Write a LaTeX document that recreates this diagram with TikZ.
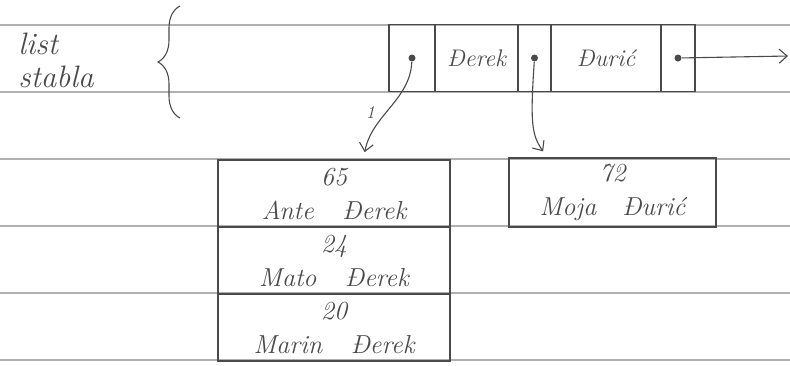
\documentclass[tikz,border=0pt]{standalone}
\usetikzlibrary{decorations.pathreplacing, arrows.meta}
\definecolor{pencil}{HTML}{4A4A4A}
\definecolor{ruling}{HTML}{B0B0B0}

\begin{document}
\begin{tikzpicture}[x=1pt, y=-1pt, line width=1.1pt, color=pencil,
    >={Straight Barb[length=8pt, width=14pt]},
    every node/.style={font=\itshape\fontsize{24}{34}\selectfont},
    cell/.style={draw, minimum height=67pt, inner sep=0pt, outer sep=0pt},
    rec/.style={draw, minimum width=232pt, minimum height=67pt, align=center, inner sep=0pt, outer sep=0pt,
      font=\itshape\fontsize{26}{34}\selectfont},
    dot/.style={circle, fill=pencil, inner sep=0pt, minimum size=7pt},
    ptr/.style={->, shorten >=8pt}]
    \useasboundingbox[fill=white] (0,0) rectangle (790,365);
    % ruled paper
    \foreach \y in {25,92,159,226,293,360}
      \draw[ruling, line width=1.4pt] (0,\y) -- (790,\y);
    \node[font=\itshape\fontsize{31}{33}\selectfont, align=left] (lbl) at (56,60) {list\\stabla};
    \draw[decorate, decoration={brace, amplitude=22pt}] (180,118) -- (180,6);
    % top list
    \node[cell, minimum width=46pt] (c1) at (412,58) {};
    \node[cell, minimum width=83pt, anchor=west] (c2) at (c1.east) {Đerek};
    \node[cell, minimum width=33pt, anchor=west] (c3) at (c2.east) {};
    \node[cell, minimum width=110pt, anchor=west] (c4) at (c3.east) {Đurić};
    \node[cell, minimum width=34pt, anchor=west] (c5) at (c4.east) {};
    \node[dot] (d1) at (c1) {};
    \node[dot] (d2) at (c3) {};
    \node[dot] (d3) at (c5) {};
    \coordinate (nil) at (788,56);
    \draw[->] (d3) -- (nil);
    % records
    \foreach \i/\y/\age/\ime in {1/193.5/65/Ante, 2/260.5/24/Mato, 3/327.5/20/Marin} {
      \node[rec] (s\i) at (334,\y) {\age\\\ime\hspace{1.1em}Đerek};
    }
    \node[rec, minimum width=207pt, minimum height=69pt] (r1) at (612.5,192.5) {72\\Moja\hspace{1em}Đurić};
    \draw[ptr] (d1) .. controls (410,100) and (372,115) .. (s1.49)
        node[pos=0.55, font=\itshape\fontsize{18}{18}\selectfont, left=8pt] (one) {1};
    \draw[ptr] (d2) .. controls (530,125) and (532,135) .. (r1.152);
  \end{tikzpicture}
\end{document}
